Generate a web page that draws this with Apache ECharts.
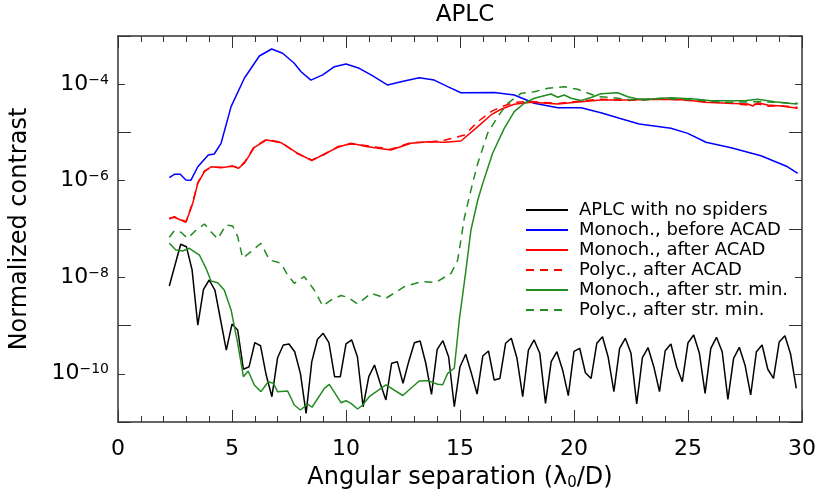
<!DOCTYPE html>
<html>
<head>
<meta charset="utf-8">
<title>APLC</title>
<script src="https://cdn.jsdelivr.net/npm/echarts@6.0.0/dist/echarts.min.js"></script>
<style>
  html, body { margin: 0; padding: 0; background: #fff; }
  #main { width: 820px; height: 499px; }
</style>
</head>
<body>
<div id="main"></div>
<script>
// values: [angular separation, contrast]
const seriesNames = [
  'APLC with no spiders',
  'Monoch., before ACAD',
  'Monoch., after ACAD',
  'Polyc., after ACAD',
  'Monoch., after str. min.',
  'Polyc., after str. min.'
];

const noSpiders = [
  [2.25, 6.59e-9], [2.5, 1.79e-8], [2.75, 4.82e-8], [3.0, 4.3e-8], [3.25, 1.41e-8], [3.5, 1.02e-9],
  [3.75, 5.62e-9], [4.0, 8.77e-9], [4.25, 5.44e-9], [4.5, 1.3e-9], [4.75, 3.1e-10], [5.0, 1.07e-9],
  [5.25, 8.07e-10], [5.5, 1.24e-10], [5.75, 1.4e-10], [6.0, 4.4e-10], [6.25, 3.81e-10], [6.5, 9.4e-11],
  [6.75, 3.34e-11], [7.0, 2.15e-10], [7.25, 3.94e-10], [7.5, 4.14e-10], [7.75, 2.86e-10], [8.0, 1.02e-10],
  [8.25, 1.51e-11], [8.5, 1.78e-10], [8.75, 5.18e-10], [9.0, 6.89e-10], [9.25, 4.4e-10], [9.5, 8.7e-11],
  [9.75, 8.7e-11], [10.0, 4.14e-10], [10.25, 5.01e-10], [10.5, 2.25e-10], [10.75, 2.07e-11], [11.0, 8.7e-11],
  [11.25, 1.52e-10], [11.5, 6.34e-11], [11.75, 2.86e-11], [12.0, 1.65e-10], [12.25, 1.78e-10], [12.5, 6.34e-11],
  [12.75, 1.78e-10], [13.0, 4.4e-10], [13.25, 4.77e-10], [13.5, 1.65e-10], [13.75, 3.75e-11], [14.0, 3.21e-10],
  [14.25, 4.84e-10], [14.5, 2.25e-10], [14.75, 2.07e-11], [15.0, 1.4e-10], [15.25, 2.53e-10], [15.5, 1.02e-10],
  [15.75, 3.8e-11], [16.0, 2.33e-10], [16.25, 2.96e-10], [16.5, 7.4e-11], [16.75, 8.0e-11], [17.0, 4.28e-10],
  [17.25, 5.43e-10], [17.5, 2.09e-10], [17.75, 3.34e-11], [18.0, 3.1e-10], [18.25, 5.01e-10], [18.5, 2.65e-10],
  [18.75, 2.44e-11], [19.0, 1.78e-10], [19.25, 2.86e-10], [19.5, 1.2e-10], [19.75, 3.51e-11], [20.0, 2.9e-10],
  [20.25, 3.37e-10], [20.5, 1.05e-10], [20.75, 8.0e-11], [21.0, 4.28e-10], [21.25, 5.86e-10], [21.5, 2.19e-10],
  [21.75, 4.25e-11], [22.0, 3.37e-10], [22.25, 5.43e-10], [22.5, 2.65e-10], [22.75, 2.36e-11], [23.0, 2.15e-10],
  [23.25, 3.47e-10], [23.5, 1.4e-10], [23.75, 4.25e-11], [24.0, 3.0e-10], [24.25, 4.14e-10], [24.5, 1.4e-10],
  [24.75, 6.84e-11], [25.0, 4.4e-10], [25.25, 6.35e-10], [25.5, 2.65e-10], [25.75, 3.93e-11], [26.0, 3.37e-10],
  [26.25, 5.69e-10], [26.5, 2.86e-10], [26.75, 2.95e-11], [27.0, 2.09e-10], [27.25, 3.53e-10], [27.5, 1.52e-10],
  [27.75, 3.63e-11], [28.0, 2.86e-10], [28.25, 3.94e-10], [28.5, 1.24e-10], [28.75, 8.0e-11], [29.0, 4.55e-10],
  [29.25, 6.15e-10], [29.5, 2.56e-10], [29.75, 4.98e-11]
];

const monoBefore = [
  [2.25, 1.16e-6], [2.47, 1.36e-6], [2.73, 1.36e-6], [2.98, 1.04e-6], [3.2, 1.03e-6], [3.5, 1.95e-6],
  [3.96, 3.42e-6], [4.22, 3.58e-6], [4.52, 5.97e-6], [4.96, 3.43e-5], [5.54, 1.33e-4], [6.2, 3.85e-4],
  [6.74, 5.38e-4], [7.22, 4.38e-4], [7.73, 2.72e-4], [8.03, 1.82e-4], [8.46, 1.22e-4], [8.98, 1.56e-4],
  [9.49, 2.31e-4], [10.0, 2.63e-4], [10.58, 2.14e-4], [11.1, 1.56e-4], [11.83, 9.64e-5], [12.41, 1.13e-4],
  [13.21, 1.37e-4], [13.87, 1.22e-4], [14.46, 8.9e-5], [15.04, 6.68e-5], [16.5, 6.75e-5], [17.38, 5.98e-5],
  [18.26, 4.03e-5], [19.29, 3.27e-5], [20.31, 3.27e-5], [21.18, 2.57e-5], [21.99, 1.97e-5], [22.86, 1.5e-5],
  [24.25, 1.22e-5], [24.99, 9.6e-6], [25.79, 6.27e-6], [26.89, 4.84e-6], [28.2, 3.3e-6], [29.37, 1.95e-6],
  [29.81, 1.43e-6]
];

const monoAfter = [
  [2.25, 1.67e-7], [2.47, 1.75e-7], [2.98, 1.38e-7], [3.28, 3.41e-7], [3.5, 8.85e-7], [3.79, 1.54e-6],
  [4.08, 1.95e-6], [4.52, 1.86e-6], [5.03, 2.02e-6], [5.28, 1.81e-6], [5.54, 2.3e-6], [5.98, 4.93e-6],
  [6.52, 7.0e-6], [7.15, 6.15e-6], [7.88, 3.71e-6], [8.5, 2.61e-6], [9.05, 3.58e-6], [9.64, 4.93e-6],
  [10.22, 5.97e-6], [10.95, 5.08e-6], [11.97, 4.34e-6], [12.85, 5.97e-6], [13.58, 6.45e-6], [14.31, 6.27e-6],
  [15.04, 6.67e-6], [15.78, 1.32e-5], [16.36, 2.31e-5], [16.8, 3.03e-5], [17.38, 3.84e-5], [18.11, 4.23e-5],
  [19.29, 3.9e-5], [20.31, 4.35e-5], [21.18, 4.72e-5], [22.36, 4.72e-5], [23.82, 4.88e-5], [24.99, 4.72e-5],
  [25.71, 4.23e-5], [26.74, 4.03e-5], [27.62, 3.9e-5], [27.84, 3.54e-5], [28.06, 4.15e-5], [28.5, 3.72e-5],
  [29.08, 3.54e-5], [29.81, 3.18e-5]
];

const polyAfter = [
  [2.25, 1.6e-7], [2.47, 1.8e-7], [2.98, 1.42e-7], [3.28, 3.6e-7], [3.5, 9.2e-7], [3.79, 1.6e-6],
  [4.08, 1.9e-6], [4.52, 1.9e-6], [5.03, 2.0e-6], [5.28, 1.85e-6], [5.54, 2.4e-6], [5.98, 5.1e-6],
  [6.52, 7.2e-6], [7.15, 6.3e-6], [7.88, 3.6e-6], [8.5, 2.7e-6], [9.05, 3.5e-6], [9.64, 5.1e-6],
  [10.22, 5.8e-6], [10.95, 5.3e-6], [11.97, 4.5e-6], [12.85, 6.2e-6], [13.58, 6.3e-6], [14.31, 6.9e-6],
  [15.2, 8.87e-6], [15.78, 1.67e-5], [16.36, 2.7e-5], [16.8, 3.4e-5], [17.38, 4.2e-5], [18.11, 4.4e-5],
  [19.29, 4.0e-5], [20.31, 4.5e-5], [21.18, 4.9e-5], [22.36, 4.6e-5], [23.82, 5.0e-5], [24.99, 4.6e-5],
  [25.71, 4.4e-5], [26.74, 4.1e-5], [27.62, 3.7e-5], [28.06, 3.9e-5], [28.5, 3.5e-5], [29.08, 3.6e-5],
  [29.81, 3.3e-5]
];

const monoStrMin = [
  [2.25, 5.06e-8], [2.54, 3.67e-8], [2.84, 3.5e-8], [3.13, 3.98e-8], [3.57, 2.89e-8], [3.86, 1.53e-8],
  [4.08, 8.35e-9], [4.37, 7.7e-9], [4.66, 5.44e-9], [4.96, 2.1e-9], [5.25, 4.28e-10], [5.5, 8.7e-11],
  [5.71, 1.14e-10], [5.98, 5.85e-11], [6.27, 4.25e-11], [6.59, 6.84e-11], [6.81, 6.34e-11], [7.0, 4.25e-11],
  [7.44, 4.39e-11], [7.73, 2.25e-11], [8.0, 1.77e-11], [8.32, 2.36e-11], [8.51, 2.02e-11], [9.05, 4.99e-11],
  [9.27, 6.04e-11], [9.78, 2.51e-11], [10.0, 2.76e-11], [10.22, 2.44e-11], [10.51, 1.86e-11], [10.73, 2.25e-11],
  [11.02, 3.34e-11], [11.75, 5.85e-11], [12.49, 3.54e-11], [13.21, 7.08e-11], [13.58, 7.2e-11], [14.02, 6.04e-11],
  [14.24, 5.93e-11], [14.46, 1.02e-10], [14.75, 1.3e-10], [14.97, 1.3e-9], [15.26, 1.41e-8], [15.48, 9.53e-8],
  [15.78, 3.99e-7], [16.0, 8.85e-7], [16.43, 3.71e-6], [16.94, 1.22e-5], [17.38, 2.7e-5], [17.82, 4.03e-5],
  [18.26, 5.12e-5], [18.99, 6.28e-5], [19.29, 5.37e-5], [19.57, 5.98e-5], [19.87, 5.12e-5], [20.31, 4.6e-5],
  [20.75, 5.31e-5], [21.18, 6.34e-5], [21.92, 6.68e-5], [22.36, 5.52e-5], [22.79, 4.95e-5], [23.38, 4.95e-5],
  [24.25, 5.26e-5], [25.28, 4.95e-5], [26.01, 4.56e-5], [27.47, 4.56e-5], [28.06, 4.88e-5], [28.79, 4.35e-5],
  [29.37, 4.03e-5], [29.81, 3.9e-5]
];

const polyStrMin = [
  [2.25, 6.73e-8], [2.47, 9.23e-8], [2.76, 8.55e-8], [3.06, 6.41e-8], [3.35, 8.79e-8], [3.79, 1.27e-7],
  [4.08, 8.79e-8], [4.37, 6.21e-8], [4.74, 1.21e-7], [5.03, 1.15e-7], [5.25, 6.93e-8], [5.47, 2.47e-8],
  [5.83, 3.39e-8], [6.27, 5.06e-8], [6.64, 2.28e-8], [7.15, 1.95e-8], [7.44, 1.11e-8], [7.73, 7.5e-9],
  [8.17, 1.03e-8], [8.61, 5.44e-9], [8.98, 2.54e-9], [9.34, 3.37e-9], [9.78, 4.19e-9], [10.07, 3.85e-9],
  [10.51, 2.79e-9], [11.1, 4.65e-9], [11.75, 3.66e-9], [12.56, 6.37e-9], [13.29, 8.09e-9], [13.95, 7.85e-9],
  [14.61, 1.21e-8], [14.9, 2.28e-8], [15.19, 1.69e-7], [15.48, 6.43e-7], [15.78, 2.3e-6], [16.21, 9.6e-6],
  [16.65, 2.12e-5], [17.09, 4.03e-5], [17.68, 6.49e-5], [18.26, 7.01e-5], [18.85, 8.24e-5], [19.57, 8.9e-5],
  [20.16, 7.86e-5], [20.6, 6.59e-5], [21.04, 5.52e-5], [21.62, 5.37e-5], [22.21, 4.88e-5], [23.08, 4.72e-5],
  [23.82, 5.12e-5], [25.28, 4.72e-5], [26.74, 4.23e-5], [28.2, 4.35e-5], [29.81, 4.03e-5]
];

const frameColor = '#333';
const font = 'DejaVu Sans';

function xAx(pos, labels) {
  return {
    type: 'value', position: pos, min: 0, max: 30, interval: 5,
    axisLine: { show: true, lineStyle: { color: frameColor, width: 1.5 } },
    axisTick: { show: true, inside: true, length: 12, lineStyle: { color: frameColor } },
    minorTick: { show: true, splitNumber: 5, length: 6, lineStyle: { color: frameColor } },
    axisLabel: { show: labels, margin: 16, color: '#000', fontSize: 22, fontFamily: font,
      showMinLabel: true, showMaxLabel: true },
    splitLine: { show: false }
  };
}

function yAx(pos, step, len, labels) {
  return {
    type: 'log', logBase: 10, position: pos, min: 1e-11, max: 1e-3, interval: step,
    axisLine: { show: step === 1, lineStyle: { color: frameColor, width: 1.5 } },
    axisTick: { show: true, inside: true, length: len, lineStyle: { color: frameColor } },
    axisLabel: {
      show: labels, margin: 9, color: '#000', fontFamily: font,
      formatter: function (v) {
        const e = Math.round(Math.log10(v));
        if (e % 2 !== 0) return '';
        return '{b|10}{s|\u2212' + (-e) + '}';
      },
      rich: {
        b: { fontSize: 22, lineHeight: 22, fontFamily: font, color: '#000' },
        s: { fontSize: 14, lineHeight: 14, verticalAlign: 'top', fontFamily: font, color: '#000' }
      }
    },
    splitLine: { show: false }
  };
}

const xMain = xAx('bottom', true);
xMain.name = 'Angular separation (\u03bb{sub|0}/D)';
xMain.nameLocation = 'middle';
xMain.nameGap = 44;
xMain.nameTextStyle = {
  fontSize: 24, fontFamily: font, color: '#000', lineHeight: 24,
  rich: { sub: { fontSize: 15, lineHeight: 15, padding: [10, 0, 0, 0], verticalAlign: 'top', fontFamily: font, color: '#000' } }
};

const yMain = yAx('left', 1, 7, true);
yMain.name = 'Normalized contrast';
yMain.nameLocation = 'middle';
yMain.nameRotate = 90;
yMain.nameGap = 86;
yMain.nameTextStyle = { fontSize: 24, fontFamily: font, color: '#000' };

function line(name, data, color, dashed) {
  return {
    name: name, type: 'line', data: data, xAxisIndex: 0, yAxisIndex: 0,
    symbol: 'none', showSymbol: false, smooth: false, animation: false,
    lineStyle: { color: color, width: 1.5, type: dashed ? [8, 6] : 'solid' },
    itemStyle: { color: color }
  };
}

const chart = echarts.init(document.getElementById('main'), null, { renderer: 'canvas' });
chart.setOption({
  backgroundColor: '#fff',
  animation: false,
  title: {
    text: 'APLC', left: 460, top: -1, textAlign: 'center',
    textStyle: { fontSize: 23, fontWeight: 'normal', fontFamily: font, color: '#000' }
  },
  grid: { left: 117, right: 18, top: 36, bottom: 77, containLabel: false },
  legend: {
    orient: 'vertical', left: 525, top: 201, padding: 0,
    itemWidth: 42, itemHeight: 14, itemGap: 2,
    itemStyle: { opacity: 0 },
    textStyle: { fontSize: 18, lineHeight: 18, fontFamily: font, color: '#000', padding: [0, 0, 0, 6] },
    data: seriesNames
  },
  xAxis: [xMain, xAx('top', false)],
  yAxis: [yMain, yAx('left', 2, 13, false), yAx('right', 1, 7, false), yAx('right', 2, 13, false)],
  series: [
    line(seriesNames[0], noSpiders, '#000000', false),
    line(seriesNames[1], monoBefore, '#0000ff', false),
    line(seriesNames[2], monoAfter, '#ff0000', false),
    line(seriesNames[3], polyAfter, '#ff0000', true),
    line(seriesNames[4], monoStrMin, '#228b22', false),
    line(seriesNames[5], polyStrMin, '#228b22', true)
  ]
});
</script>
</body>
</html>
